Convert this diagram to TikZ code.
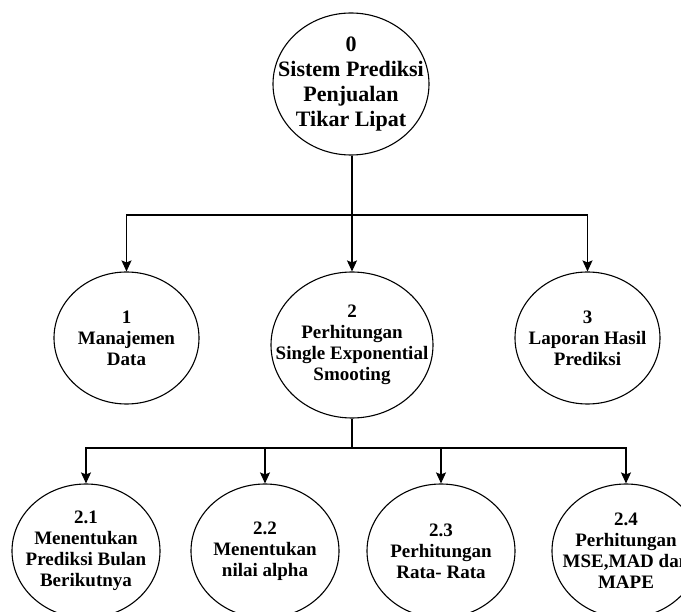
\documentclass[tikz,border=0pt]{standalone}
\usepackage{fontspec}
\setmainfont{Liberation Serif}
\usetikzlibrary{shapes.geometric,arrows.meta}
\begin{document}
\begin{tikzpicture}[x=1pt,y=-1pt,
  proc/.style={draw,ellipse,line width=1.1pt,inner sep=0pt,fill=white},
  big/.style={proc,minimum width=156pt,minimum height=142pt},
  mid/.style={proc,minimum width=145pt,minimum height=132pt},
  wide/.style={proc,minimum width=162pt,minimum height=146pt},
  low/.style={proc,minimum width=148pt,minimum height=134pt},
  lbl/.style={align=center,inner sep=0pt,font=\fontsize{19}{21}\selectfont\bfseries},
  toplbl/.style={align=center,inner sep=0pt,font=\fontsize{22}{25}\selectfont\bfseries},
  link/.style={line width=1.1pt},
  arr/.style={link,-{Stealth[length=11pt,width=10pt,inset=2pt]}}]
\useasboundingbox (0,0) rectangle (681,612);

% top-level process
\node[big] (n0) at (351,84) {};
\node[toplbl] (t0) at (n0) {0\\Sistem Prediksi\\Penjualan\\Tikar Lipat};

% first-level processes
\node[mid]  (n1) at (126.5,338) {};
\node[wide] (n2) at (352,345) {};
\node[mid]  (n3) at (587.5,338) {};
\node[lbl] (t1) at (n1) {1\\Manajemen\\Data};
\node[lbl] (t2) at (n2) {2\\Perhitungan\\Single Exponential\\Smooting};
\node[lbl] (t3) at (n3) {3\\Laporan Hasil\\Prediksi};

% sub-processes of process 2
\node[low] (n21) at (86,551) {};
\node[low] (n22) at (265,551) {};
\node[low] (n23) at (441,551) {};
\node[low] (n24) at (626,551) {};
\node[lbl] (t21) at (n21) {2.1\\Menentukan\\Prediksi Bulan\\Berikutnya};
\node[lbl] (t22) at (n22) {2.2\\Menentukan\\nilai alpha};
\node[lbl] (t23) at (n23) {2.3\\Perhitungan\\Rata- Rata};
\node[lbl] (t24) at (n24) {2.4\\Perhitungan\\MSE,MAD dan\\MAPE};

% branching points
\coordinate (b0) at (352,215);
\coordinate (b2) at (352,448);

% connectors
\draw[link] (n0.south -| b0) -- (b0);
\draw[arr] (b0) -| (n1.north);
\draw[arr] (b0) -- (n2.north);
\draw[arr] (b0) -| (n3.north);

\draw[link] (n2.south) -- (b2);
\draw[arr] (b2) -| (n21.north);
\draw[arr] (b2) -| (n22.north);
\draw[arr] (b2) -| (n23.north);
\draw[arr] (b2) -| (n24.north);
\end{tikzpicture}
\end{document}
